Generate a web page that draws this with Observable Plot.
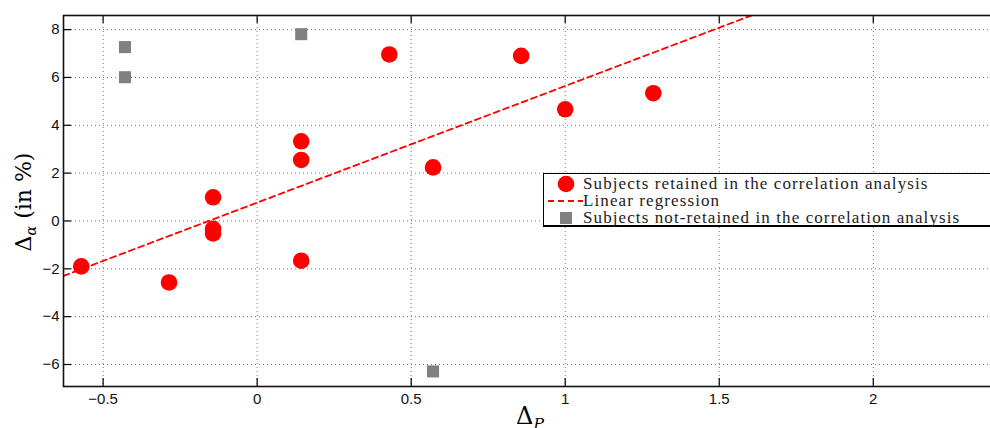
<!DOCTYPE html>
<html><head><meta charset="utf-8">
<script src="https://cdn.jsdelivr.net/npm/d3@7"></script>
<script src="https://cdn.jsdelivr.net/npm/@observablehq/plot@0.6"></script>
<style>
html,body{margin:0;padding:0;background:#fff;overflow:hidden;width:990px;height:428px;}
#wrap{position:relative;width:990px;height:428px;overflow:hidden;}
#chart svg{display:block;max-width:none !important;}
.lab{position:absolute;white-space:nowrap;font-family:"DejaVu Serif","Liberation Serif",serif;color:#000;}
.lab sub{font-size:0.65em;vertical-align:-0.35em;line-height:0;font-style:italic;}
#legend{position:absolute;left:543px;top:173px;width:460px;height:54px;border:1.5px solid #000;border-bottom-width:2px;background:#fff;box-sizing:border-box;
  font-family:"Liberation Serif","DejaVu Serif",serif;font-size:17px;letter-spacing:1.1px;color:#222;}
#legend .row{position:absolute;left:39px;right:0;height:16px;line-height:16px;white-space:nowrap;}
#legend svg{position:absolute;left:0;top:0;}
</style></head><body>
<div id="wrap"><div id="chart"></div>
<div class="lab" id="ylab" style="left:23px;top:202px;font-size:22px;transform:translate(-50%,-50%) rotate(-90deg);">Δ<sub>α</sub> (in %)</div>
<div class="lab" id="xlab" style="left:530px;top:416px;font-size:24px;transform:translate(-50%,-50%);">Δ<sub>P</sub></div>
<div id="legend">
  <svg width="40" height="53"></svg>
  <div class="row" style="top:1.5px">Subjects retained in the correlation analysis</div>
  <div class="row" style="top:18.5px">Linear regression</div>
  <div class="row" style="top:35.5px">Subjects not-retained in the correlation analysis</div>
</div>
</div>
<script>
// Subjects retained in the correlation analysis
const retainedX = [-0.571, -0.286, -0.143, -0.143, -0.143, 0.143, 0.143, 0.143, 0.429, 0.571, 0.857, 1.000, 1.286];
const retainedY = [-1.90, -2.57, 0.99, -0.33, -0.52, 3.33, 2.55, -1.66, 6.96, 2.24, 6.90, 4.67, 5.34];
// Subjects not-retained in the correlation analysis
const excludedX = [-0.429, -0.429, 0.143, 0.571];
const excludedY = [7.27, 6.01, 7.81, -6.29];
// tick values
const xTicks = [-0.5, 0, 0.5, 1, 1.5, 2];
const yTicks = [-6, -4, -2, 0, 2, 4, 6, 8];

const xDomain = [-0.6286, 2.4];
const yDomain = [-6.92, 8.59];

const retained = retainedX.map((x, i) => ({x, y: retainedY[i]}));
const excluded = excludedX.map((x, i) => ({x, y: excludedY[i]}));

// least-squares fit on the retained subjects
const mx = d3.mean(retainedX), my = d3.mean(retainedY);
const slope = d3.sum(retained, d => (d.x - mx) * (d.y - my)) / d3.sum(retained, d => (d.x - mx) ** 2);
const intercept = my - slope * mx;
const regLine = xDomain.map(x => ({x, y: intercept + slope * x}));

const fmt = d => (d < 0 ? "\u2212" : "") + String(Math.abs(d));

const W = 1000, H = 428, mT = 15, mB = 42, mL = 63, mR = 4;
const innerH = H - mT - mB, innerW = W - mL - mR;
const TL = 8;

const plot = Plot.plot({
  width: W, height: H,
  marginTop: mT, marginBottom: mB, marginLeft: mL, marginRight: mR,
  x: {domain: xDomain, label: null},
  y: {domain: yDomain, label: null},
  style: {fontFamily: "'Liberation Sans', Arial, sans-serif", fontSize: "15px", color: "#111", background: "#fff", maxWidth: "none"},
  marks: [
    Plot.gridX(xTicks, {stroke: "#777", strokeOpacity: 1, strokeDasharray: "1,3", strokeWidth: 1}),
    Plot.gridY(yTicks, {stroke: "#777", strokeOpacity: 1, strokeDasharray: "1,3", strokeWidth: 1}),
    Plot.tickX(xTicks, {x: d => d, insetTop: innerH - TL, stroke: "#000", strokeWidth: 1.2}),
    Plot.tickX(xTicks, {x: d => d, insetBottom: innerH - TL, stroke: "#000", strokeWidth: 1.2}),
    Plot.tickY(yTicks, {y: d => d, insetRight: innerW - TL, stroke: "#000", strokeWidth: 1.2}),
    Plot.axisX(xTicks, {tickSize: 0, tickPadding: 7, fontSize: 15, tickFormat: fmt}),
    Plot.axisY(yTicks, {tickSize: 0, tickPadding: 4, fontSize: 15, tickFormat: fmt}),
    Plot.dot(retained, {x: "x", y: "y", r: 8.3, fill: "#ff0000", stroke: null}),
    Plot.line(regLine, {x: "x", y: "y", stroke: "#ff0000", strokeWidth: 1.8, strokeDasharray: "6,4", clip: true}),
    Plot.dot(excluded, {x: "x", y: "y", r: 6.8, symbol: "square", fill: "#808080", stroke: null}),
    Plot.frame({stroke: "#111", strokeWidth: 1.6})
  ]
});
document.getElementById("chart").appendChild(plot);

// legend markers
const lg = d3.select("#legend svg");
lg.append("circle").attr("cx", 22).attr("cy", 10).attr("r", 8.3).attr("fill", "#ff0000");
lg.append("line").attr("x1", 4).attr("x2", 39).attr("y1", 27).attr("y2", 27)
  .attr("stroke", "#ff0000").attr("stroke-width", 1.8).attr("stroke-dasharray", "6,4");
lg.append("rect").attr("x", 16).attr("y", 38).attr("width", 12).attr("height", 12).attr("fill", "#808080");
</script>
</body></html>
